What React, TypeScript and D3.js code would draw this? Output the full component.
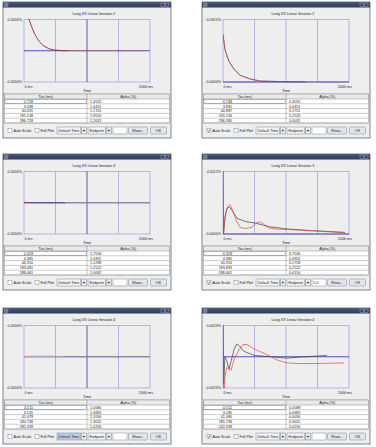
import React from 'react';
import * as d3 from 'd3';

// ---------- data ----------
const titles = ['Lang XX Linear   Iteration 2', 'Lang XX Linear   Iteration 2', 'Lang XX Linear   Iteration 3', 'Lang XX Linear   Iteration 3', 'Lang XX Linear   Iteration 4', 'Lang XX Linear   Iteration 4'];
const yTopLabels = ['0.2000%', '0.0315%', '0.2000%', '0.0112%', '0.2000%', '0.0023%'];
const yBottomLabels = ['-0.2000%', '-0.0000%', '-0.2000%', '-0.0000%', '-0.2000%', '-0.0023%'];
const yMaxs = [0.2, 0.0315, 0.2, 0.0112, 0.2, 0.0023];
const yMins = [-0.2, 0, -0.2, 0, -0.2, -0.0023];
const xMaxs = [2000, 2000, 2000, 1000, 2000, 2000];
const xLeftLabels = ['0 ms', '0 ms', '0 ms', '0 ms', '0 ms', '0 ms'];
const xRightLabels = ['2000 ms', '2000 ms', '2000 ms', '1000 ms', '2000 ms', '2000 ms'];
const autoScale = [false, true, false, true, false, true];
const textFieldValues = ['', '', '', '1.0', '', ''];

const tau1 = [0.728, 3.098, 40.431, 181.138, 286.728];
const alpha1 = [1.4555, 1.4455, 1.1701, 1.352, 1.2031];
const tau2 = [0.748, 3.895, 40.887, 205.136, 296.39];
const alpha2 = [0.4555, 0.0455, 0.1701, 0.252, 0.0031];
const tau3 = [0.359, 4.385, 46.35, 183.081, 288.461];
const alpha3 = [1.7536, 1.0955, 1.1298, 1.2522, 1.0092];
const tau4 = [0.359, 4.385, 40.35, 183.893, 288.461];
const alpha4 = [0.7536, 0.0955, 0.1758, 0.2522, 0.015];
const tau5 = [0.511, 3.145, 41.079, 180.736, 282.439];
const alpha5 = [1.058, 1.0682, 1.2056, 1.3015, 1.0256];
const tau6 = [0.512, 3.185, 41.08, 185.736, 242.439];
const alpha6 = [0.0589, 0.0682, 0.0056, 0.3015, 0.0256];

// series: [time ms, value %]
const p1Black = [[60, 0.24], [80, 0.2], [120, 0.155], [160, 0.115], [200, 0.085], [250, 0.055], [315, 0.03], [400, 0.012], [500, 0.004], [600, 0.001], [700, 0]];
const p1Red = [[60, 0.24], [80, 0.2], [120, 0.155], [160, 0.115], [200, 0.085], [250, 0.055], [315, 0.03], [400, 0.012], [500, 0.004], [600, 0.001], [800, 0], [1200, 0], [1600, 0], [1900, 0]];
const p2Black = [[0, 0.024], [32, 0.0162], [96, 0.0103], [176, 0.0064], [272, 0.0034], [432, 0.0015], [592, 0.0005], [1024, 0.0001], [1312, 0]];
const p2Red = [[0, 0.024], [32, 0.0162], [96, 0.0103], [176, 0.0064], [272, 0.0034], [432, 0.0015], [592, 0.0005], [1024, 0.0001], [1312, 0]];
const p3Fit = [[0, 0], [2000, 0]];
const p3Black = [[0, 0.001], [300, 0], [650, 0]];
const p3Red = [[20, 0.003], [80, 0.002]];
const p5Fit = [[0, 0], [2000, 0]];
const p5Red = [[0, 0.003], [620, 0.003]];
const p5Blue = [[130, 0.003], [480, 0.003]];
const p4Black = [[0, 0.013], [4, 0], [16, 0.003], [32, 0.0046], [48, 0.0048], [64, 0.0045], [112, 0.0028], [184, 0.0022], [248, 0.002], [368, 0.0013], [512, 0.0009], [700, 0.0006], [968, 0.0003]];
const p4Red = [[0, 0.013], [4, 0], [20, 0.0038], [40, 0.005], [56, 0.0053], [80, 0.004], [110, 0.0022], [140, 0.0011], [180, 0.001], [230, 0.0012], [260, 0.0019], [288, 0.0022], [320, 0.0018], [360, 0.0011], [420, 0.0009], [520, 0.0008], [700, 0.0006], [968, 0.0002]];
const p6Black = [[0, 0.004], [12, -0.002], [30, 0], [60, -0.0003], [95, -0.0009], [130, -0.0003], [180, 0.0006], [222, 0.00095], [260, 0.0008], [330, 0.0004], [500, 0.0001], [750, 0], [1000, -0.0001], [1300, 0], [1650, 0.0001]];
const p6Red = [[0, 0.004], [10, -0.004], [30, -0.0015], [60, -0.0008], [127, -0.001], [175, -0.0002], [250, 0.0005], [320, 0.0009], [381, 0.0009], [450, 0.0007], [524, 0.0005], [683, 0.0002], [841, -0.0002], [1000, -0.00045], [1200, -0.0005], [1500, -0.0005], [1920, -0.00045]];

const BLACK = '#3a3a3a';
const RED = '#e8403a';

const panelPos = [[3, 2], [202, 2], [3, 154], [202, 154], [3, 308], [202, 308]];
const taus = [tau1, tau2, tau3, tau4, tau5, tau6];
const alphas = [alpha1, alpha2, alpha3, alpha4, alpha5, alpha6];
const seriesList = [
  [{ d: p1Black, c: BLACK, o: 0.9 }, { d: p1Red, c: RED, o: 0.55 }],
  [{ d: p2Black, c: BLACK, o: 0.9 }, { d: p2Red, c: RED, o: 0.55 }],
  [{ d: p3Fit, c: '#9a9a9a', o: 1 }, { d: p3Black, c: '#3a3a9a', o: 1 }, { d: p3Red, c: RED, o: 1 }],
  [{ d: p4Black, c: BLACK, o: 0.85 }, { d: p4Red, c: RED, o: 0.85 }],
  [{ d: p5Fit, c: '#9a9a9a', o: 1 }, { d: p5Red, c: '#e8a0a8', o: 1 }, { d: p5Blue, c: '#a8a8dc', o: 1 }],
  [{ d: p6Black, c: BLACK, o: 0.85 }, { d: p6Red, c: RED, o: 0.85 }],
];

const FONT = 'Liberation Sans, Arial, sans-serif';
const FS = 3.7;

function Checkbox({ x, y, checked }: { x: number; y: number; checked: boolean }) {
  return (
    <g>
      <rect x={x} y={y} width={4} height={4} fill="#fff" stroke="#7a8aa8" strokeWidth={0.5} />
      {checked && <path d={`M${x + 0.8},${y + 2} L${x + 1.7},${y + 3.1} L${x + 3.3},${y + 0.9}`} stroke="#333" strokeWidth={0.6} fill="none" />}
    </g>
  );
}

function Combo({ x, y, w, label, highlight }: { x: number; y: number; w: number; label: string; highlight?: boolean }) {
  return (
    <g>
      <rect x={x} y={y} width={w} height={7} fill={highlight ? '#b9cde6' : '#f4f4f4'} stroke="#7d8796" strokeWidth={0.5} />
      <text x={x + 1.5} y={y + 4.9} fontSize={FS} fontFamily={FONT} fill="#222">{label}</text>
      <rect x={x + w + 0.8} y={y} width={5} height={7} fill="#e6e6e6" stroke="#7d8796" strokeWidth={0.5} />
      <path d={`M${x + w + 2},${y + 3} L${x + w + 4.6},${y + 3} L${x + w + 3.3},${y + 4.6} Z`} fill="#222" />
    </g>
  );
}

function Button({ x, y, w, label }: { x: number; y: number; w: number; label: string }) {
  return (
    <g>
      <rect x={x} y={y} width={w} height={7} rx={1} fill="#e2e6ec" stroke="#7d8796" strokeWidth={0.5} />
      <text x={x + w / 2} y={y + 4.9} fontSize={FS} fontFamily={FONT} fill="#222" textAnchor="middle">{label}</text>
    </g>
  );
}

function Panel({ i }: { i: number }) {
  const [x0, y0] = panelPos[i];
  const w = 168;
  const h = 136;
  const pl = x0 + 21, pr = x0 + 147, pt = y0 + 17.5, pb = y0 + 80;
  const xs = d3.scaleLinear().domain([0, xMaxs[i]]).range([pl, pr]);
  const ys = d3.scaleLinear().domain([yMins[i], yMaxs[i]]).range([pb, pt]);
  const line = d3.line<number[]>().x(d => xs(d[0])).y(d => ys(d[1]));
  const ticks = d3.range(1, 4).map(k => (xMaxs[i] * k) / 4);
  const centerDark = !autoScale[i];
  const tblTop = y0 + 92;
  const colX = x0 + 84;
  const rowH = 4.8;
  const ctrlY = y0 + 125;
  const clipId = `clip${i}`;
  return (
    <g>
      <defs>
        <clipPath id={clipId}>
          <rect x={pl} y={pt - 0.5} width={pr - pl} height={pb - pt + 1} />
        </clipPath>
      </defs>
      {/* window */}
      <rect x={x0} y={y0} width={w} height={h} fill="#eeeeee" stroke="#5c6478" strokeWidth={0.8} />
      <rect x={x0} y={y0} width={w} height={5.5} fill="url(#tbar)" />
      <rect x={x0 + 1.5} y={y0 + 1} width={3.5} height={3.5} fill="#6c7c9c" stroke="#9aa8c4" strokeWidth={0.4} />
      <rect x={x0 + w - 10} y={y0 + 1} width={3.5} height={3.5} fill="none" stroke="#9aa8c4" strokeWidth={0.5} />
      <rect x={x0 + w - 5.5} y={y0 + 1} width={3.5} height={3.5} fill="none" stroke="#9aa8c4" strokeWidth={0.5} />
      {/* chart title */}
      <text x={(pl + pr) / 2 + 7} y={y0 + 13} fontSize={FS} fontFamily={FONT} fill="#222" textAnchor="middle">{titles[i]}</text>
      {/* plot */}
      <rect x={pl} y={pt} width={pr - pl} height={pb - pt} fill="none" stroke="#a4a4e4" strokeWidth={0.8} />
      {ticks.map((t, k) => (
        <line key={k} x1={xs(t)} x2={xs(t)} y1={pt} y2={pb}
          stroke={centerDark && k === 1 ? '#4a4ab4' : '#a4a4e4'} strokeWidth={centerDark && k === 1 ? 0.9 : 0.8} />
      ))}
      <line x1={pl} x2={pr} y1={ys(0)} y2={ys(0)} stroke="#3c3cb0" strokeWidth={0.9} />
      <g clipPath={`url(#${clipId})`}>
        {seriesList[i].map((s, k) => (
          <path key={k} d={line(s.d as number[][]) || ''} fill="none" stroke={s.c} strokeOpacity={s.o} strokeWidth={0.8} />
        ))}
      </g>
      <text x={pl - 2} y={pt + 1.5} fontSize={FS} fontFamily={FONT} fill="#222" textAnchor="end">{yTopLabels[i]}</text>
      <text x={pl - 2} y={pb + 1} fontSize={FS} fontFamily={FONT} fill="#222" textAnchor="end">{yBottomLabels[i]}</text>
      <text x={pl + 0.5} y={pb + 6} fontSize={FS} fontFamily={FONT} fill="#222">{xLeftLabels[i]}</text>
      <text x={pr + 3} y={pb + 6} fontSize={FS} fontFamily={FONT} fill="#222" textAnchor="end">{xRightLabels[i]}</text>
      <text x={(pl + pr) / 2} y={pb + 9.5} fontSize={FS} fontFamily={FONT} fill="#222" textAnchor="middle">Time</text>
      {/* table */}
      <rect x={x0 + 1.5} y={tblTop} width={w - 3} height={5 + rowH * 5} fill="#fff" stroke="#8a8a8a" strokeWidth={0.5} />
      <rect x={x0 + 1.5} y={tblTop} width={w - 3} height={5} fill="#eaeaea" stroke="#8a8a8a" strokeWidth={0.5} />
      <line x1={colX} x2={colX} y1={tblTop} y2={tblTop + 5 + rowH * 5} stroke="#8a8a8a" strokeWidth={0.5} />
      <text x={(x0 + 1.5 + colX) / 2} y={tblTop + 3.8} fontSize={FS} fontFamily={FONT} fill="#222" textAnchor="middle">Tau (ms)</text>
      <text x={(colX + x0 + w - 1.5) / 2} y={tblTop + 3.8} fontSize={FS} fontFamily={FONT} fill="#222" textAnchor="middle">Alpha (%)</text>
      {taus[i].map((t, r) => (
        <g key={r}>
          <line x1={x0 + 1.5} x2={x0 + w - 1.5} y1={tblTop + 5 + rowH * (r + 1)} y2={tblTop + 5 + rowH * (r + 1)} stroke="#9a9a9a" strokeWidth={0.5} />
          <text x={x0 + 30} y={tblTop + 5 + rowH * r + 3.7} fontSize={FS} fontFamily={FONT} fill="#222" textAnchor="end">{t.toFixed(3)}</text>
          <text x={colX + 3} y={tblTop + 5 + rowH * r + 3.7} fontSize={FS} fontFamily={FONT} fill="#222">{alphas[i][r].toFixed(4)}</text>
        </g>
      ))}
      <rect x={x0 + 2} y={tblTop + 5.2} width={colX - x0 - 2.5} height={rowH - 0.4} fill="none" stroke="#6a7a9a" strokeWidth={0.5} />
      {/* controls */}
      <Checkbox x={x0 + 5} y={ctrlY + 1.5} checked={autoScale[i]} />
      <text x={x0 + 10.5} y={ctrlY + 4.9} fontSize={FS} fontFamily={FONT} fill="#222">Auto Scale</text>
      <Checkbox x={x0 + 32} y={ctrlY + 1.5} checked={false} />
      <text x={x0 + 37.5} y={ctrlY + 4.9} fontSize={FS} fontFamily={FONT} fill="#222">Full Plot</text>
      <Combo x={x0 + 54} y={ctrlY} w={23.5} label="Default Time" highlight={i === 4} />
      <Combo x={x0 + 85} y={ctrlY} w={17.5} label="Endpoint" />
      <rect x={x0 + 110} y={ctrlY} width={14} height={7} fill="#fff" stroke="#7d8796" strokeWidth={0.5} />
      <text x={x0 + 111} y={ctrlY + 4.9} fontSize={FS} fontFamily={FONT} fill="#222">{textFieldValues[i]}</text>
      <Button x={x0 + 125.5} y={ctrlY} w={19} label="Show..." />
      <Button x={x0 + 147.5} y={ctrlY} w={16} label="OK" />
    </g>
  );
}

export default function App() {
  return (
    <svg width={376} height={447} style={{ position: 'absolute', left: 0, top: 0, background: '#fff' }}>
      <defs>
        <linearGradient id="tbar" x1="0" x2="0" y1="0" y2="1">
          <stop offset="0" stopColor="#4a5a7c" />
          <stop offset="1" stopColor="#2c3a58" />
        </linearGradient>
      </defs>
      {panelPos.map((_, i) => <Panel key={i} i={i} />)}
    </svg>
  );
}
